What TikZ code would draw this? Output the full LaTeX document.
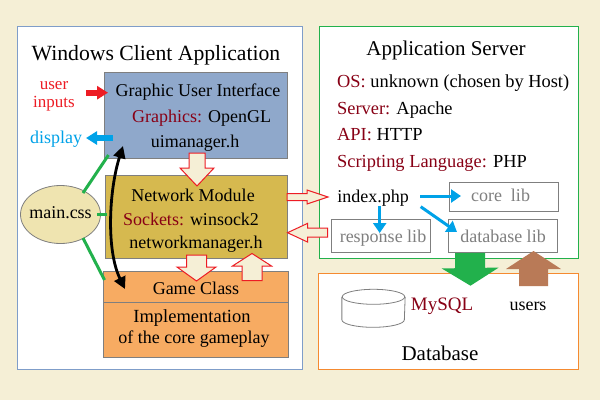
\documentclass[tikz,border=0pt]{standalone}
\usepackage{fontspec}
\setmainfont{Liberation Serif}
\usetikzlibrary{arrows.meta,calc,shapes.geometric}
\definecolor{bgc}{HTML}{F5EFD6}
\definecolor{clientb}{HTML}{7F9DC9}
\definecolor{servb}{HTML}{22B14C}
\definecolor{dbb}{HTML}{F58A30}
\definecolor{guif}{HTML}{8FA8CB}
\definecolor{netf}{HTML}{D6B94F}
\definecolor{gamef}{HTML}{F7AB62}
\definecolor{ellf}{HTML}{EFE4B0}
\definecolor{dred}{HTML}{880015}
\definecolor{redc}{HTML}{ED1C24}
\definecolor{bluec}{HTML}{00A2E8}
\definecolor{brownc}{HTML}{B97A57}
\definecolor{grayc}{HTML}{7F7F7F}
\tikzset{
  x=1pt,y=-1pt,
  panel/.style={draw,line width=1pt,fill=white},
  block/.style={draw=grayc,line width=1pt},
  lbl/.style={inner sep=0pt,yshift=-2pt,text height=.68em,text depth=.2em,font=\fontsize{#1}{#1}\selectfont},
  lbl/.default=18,
  libbox/.style={draw=grayc,line width=1pt,fill=white},
  libtxt/.style={lbl=18,text=grayc},
  thin blue/.style={bluec,line width=3pt,-{Triangle[length=10pt,width=13pt]}},
  wire/.style={servb,line width=3pt},
  blk/.style n args={3}{to path={
    ($(\tikztostart)!#1!90:(\tikztotarget)$) --
    ($(\tikztotarget)!#3!(\tikztostart)!#1!90:(\tikztotarget)$) --
    ($(\tikztotarget)!#3!(\tikztostart)!#2!90:(\tikztotarget)$) --
    (\tikztotarget) --
    ($(\tikztotarget)!#3!(\tikztostart)!#2!-90:(\tikztotarget)$) --
    ($(\tikztotarget)!#3!(\tikztostart)!#1!-90:(\tikztotarget)$) --
    ($(\tikztostart)!#1!-90:(\tikztotarget)$) -- cycle}},
  cream/.style={draw=redc,line width=1pt,fill=bgc},
}
\begin{document}
\begin{tikzpicture}
\useasboundingbox (0,0) rectangle (600,400);
\fill[bgc] (0,0) rectangle (600,400);
% panels
\draw[panel,draw=clientb] (17.5,26) rectangle (302.5,369.5);
\draw[panel,draw=servb] (319.5,26) rectangle (578.5,258.5);
\draw[panel,draw=dbb] (318.5,273) rectangle (578.5,369.5);
% blocks
\node[block,fill=guif,minimum width=183pt,minimum height=86pt,inner sep=0pt] (gui) at (195.5,115) {};
\node[block,fill=netf,minimum width=182pt,minimum height=83pt,inner sep=0pt] (net) at (196,217) {};
\node[block,fill=gamef,minimum width=184.5pt,minimum height=86pt,inner sep=0pt] (game) at (195.75,314) {};
\draw[block] (game.west |- 0,302) -- (game.east |- 0,302);
\node[draw=grayc,line width=.8pt,fill=ellf,ellipse,minimum width=80pt,minimum height=58pt,inner sep=0pt] (main) at (60.5,214.5) {};
% libs
\node[libbox,minimum width=109.5pt,minimum height=29.5pt,inner sep=0pt] (corebox) at (504,197) {};
\node[libbox,minimum width=99pt,minimum height=32.5pt,inner sep=0pt] (respbox) at (380.5,236.2) {};
\node[libbox,minimum width=109.5pt,minimum height=32.5pt,inner sep=0pt] (dbbox) at (503,236.2) {};
% cylinder
\node[draw=grayc,ellipse,line width=.8pt,minimum width=62.5pt,minimum height=15pt,inner sep=0pt] (cyl) at (373.5,296.8) {};
\draw[grayc,line width=.8pt] (cyl.west) -- ++(0,23) arc[start angle=180,end angle=360,x radius=31.25,y radius=-7.5] -- (cyl.east);
% wires
\coordinate (w1) at (83,193); \coordinate (w1e) at (108.5,155);
\coordinate (w2) at (97,214); \coordinate (w2e) at (107,214);
\coordinate (w3) at (83,238); \coordinate (w3e) at (104.5,280);
\draw[wire] (w1) -- (w1e);
\draw[wire] (w2) -- (w2e);
\draw[wire] (w3) -- (w3e);
% black double arrow
\coordinate (bk1) at (123,146); \coordinate (bk2) at (125,289);
\draw[black,line width=2.8pt,{Triangle[length=12pt,width=12pt]}-{Triangle[length=12pt,width=12pt]}] (bk1) .. controls (109,190) and (106,250) .. (bk2);
% block arrows
\coordinate (a1s) at (197,153); \coordinate (a1t) at (197,186);
\coordinate (a2s) at (196.5,255); \coordinate (a2t) at (196.5,281);
\coordinate (a3s) at (252,280.5); \coordinate (a3t) at (252,253.5);
\coordinate (a4s) at (287,197); \coordinate (a4t) at (328,197);
\coordinate (a5s) at (327.7,232.7); \coordinate (a5t) at (287.5,232.7);
\draw[cream] (a1s) to[blk={8pt}{17pt}{18pt}] (a1t);
\draw[cream] (a2s) to[blk={10pt}{19.5pt}{14pt}] (a2t);
\draw[cream] (a3s) to[blk={10pt}{19.5pt}{12.5pt}] (a3t);
\draw[cream] (a4s) to[blk={3.5pt}{7pt}{21pt}] (a4t);
\draw[cream] (a5s) to[blk={4.5pt}{9.3pt}{20pt}] (a5t);
\coordinate (g1) at (470,253); \coordinate (g2) at (470.5,285.7);
\fill[servb] (g1) to[blk={15pt}{28.5pt}{17.7pt}] (g2);
\coordinate (br1) at (533.5,286); \coordinate (br2) at (533.5,251);
\fill[brownc] (br1) to[blk={14.5pt}{27.5pt}{18pt}] (br2);
% user / display arrows
\coordinate (ru) at (86,92.7); \coordinate (rv) at (108,92.7);
\draw[redc,line width=6pt,-{Triangle[length=11pt,width=13pt]}] (ru) -- (rv);
\coordinate (du) at (113,138); \coordinate (dv) at (86,138);
\draw[bluec,line width=6pt,-{Triangle[length=11pt,width=13pt]}] (du) -- (dv);
% server arrows
\coordinate (ix1) at (420,196); \coordinate (ix2) at (379.7,206); \coordinate (ix3) at (420.7,206.7);
\coordinate (ixc) at (461,196); \coordinate (ixr) at (379.7,233); \coordinate (ixd) at (457,232);
\draw[thin blue] (ix1) -- (ixc);
\draw[thin blue] (ix2) -- (ixr);
\draw[thin blue] (ix3) -- (ixd);
% texts
\node[lbl=21.7] (t1) at (156,56) {Windows Client Application};
\node[lbl=17,text=redc] (t2) at (54,85) {user};
\node[lbl=17,text=redc] (t3) at (54,103) {inputs};
\node[lbl=18] (t4) at (198,92) {Graphic User Interface};
\node[lbl=18] (t5) at (201.7,118) {\textcolor{dred}{Graphics:} OpenGL};
\node[lbl=18] (t6) at (195,143) {uimanager.h};
\node[lbl=18,text=bluec] (t7) at (56,139) {display};
\node[lbl=18] (t8) at (60.5,214) {main.css};
\node[lbl=18] (t9) at (193,197) {Network Module};
\node[lbl=18] (t10) at (191,221) {\textcolor{dred}{Sockets:} winsock2};
\node[lbl=18] (t11) at (196,244) {networkmanager.h};
\node[lbl=18] (t12) at (196,290) {Game Class};
\node[lbl=18.5] (t13) at (192,318) {Implementation};
\node[lbl=18] (t14) at (194,339) {of the core gameplay};
\node[lbl=21] (t15) at (446,51) {Application Server};
\node[lbl=18.4,anchor=west] (t16) at (337,83) {\textcolor{dred}{OS:} unknown (chosen by Host)};
\node[lbl=18.4,anchor=west] (t17) at (337,110) {\textcolor{dred}{Server:} Apache};
\node[lbl=18.4,anchor=west] (t18) at (337,136) {\textcolor{dred}{API:} HTTP};
\node[lbl=18.4,anchor=west] (t19) at (337,163) {\textcolor{dred}{Scripting Language:} PHP};
\node[lbl=18] (t20) at (373,198) {index.php};
\node[libtxt] (t21) at (500.5,197) {core\ \ lib};
\node[libtxt] (t22) at (383,238) {response lib};
\node[libtxt] (t23) at (503,238) {database lib};
\node[lbl=19] (t24) at (442,306) {\textcolor{dred}{MySQL}};
\node[lbl=18] (t25) at (528,306) {users};
\node[lbl=21] (t26) at (440,356) {Database};
\end{tikzpicture}
\end{document}
